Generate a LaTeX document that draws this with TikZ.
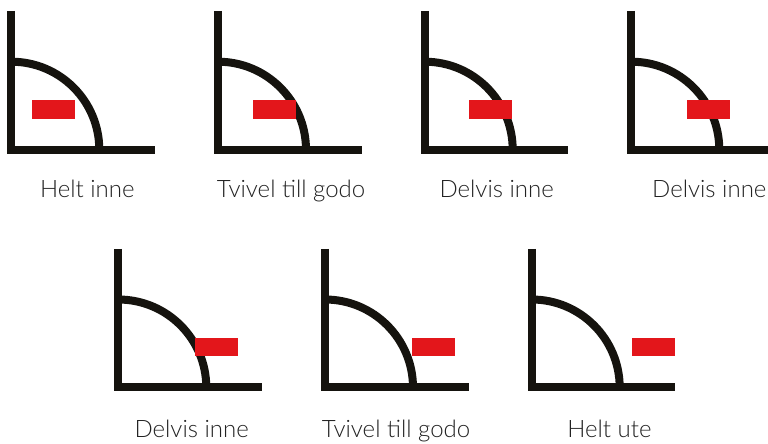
\documentclass[tikz,border=0pt]{standalone}
\usepackage{fontspec}
\setmainfont{Lato}[UprightFont={* Light}]
\definecolor{ink}{HTML}{15130E}
\definecolor{mark}{HTML}{E3161B}
\definecolor{txt}{HTML}{222222}
\tikzset{
  wall/.style={line width=8pt, draw=ink, line join=miter},
  piece/.style={fill=mark},
  lbl/.style={text=txt, font=\fontsize{24}{27}\selectfont, anchor=base, inner sep=0pt},
}
% corner panel: #1 name, (#2,#3) inner corner, #4 offset of the red block,
% #5 caption position relative to the corner, #6 caption
\newcommand\cornerpanel[6]{%
  \begin{scope}[shift={(#2pt,#3pt)}]
    \draw[wall] (0,138.7) -- (0,0) -- (143.7,0);
    \draw[wall] (0,88) arc[start angle=90, end angle=0, radius=88];
    \fill[piece] (#4,31) rectangle ++(43,18.7);
    \node[lbl] (#1) at (#5) {#6};
  \end{scope}}
\begin{document}
\begin{tikzpicture}[x=1pt, y=1pt]
  \useasboundingbox (0,0) rectangle (768,444);
  \cornerpanel{p1}{11.3}{294.3}{20.4}{76,-47.5}{Helt inne}
  \cornerpanel{p2}{218}{294.3}{34.7}{73,-47.5}{Tvivel till godo}
  \cornerpanel{p3}{424.7}{294.3}{44.3}{72,-47.5}{Delvis inne}
  \cornerpanel{p4}{631.3}{294.3}{55.4}{78,-47.5}{Delvis inne}
  \cornerpanel{p5}{118.3}{56.5}{76.7}{73.4,-50}{Delvis inne}
  \cornerpanel{p6}{325}{56.5}{86.7}{71,-50}{Tvivel till godo}
  \cornerpanel{p7}{531.7}{56.5}{100.3}{77.8,-50}{Helt ute}
\end{tikzpicture}
\end{document}
